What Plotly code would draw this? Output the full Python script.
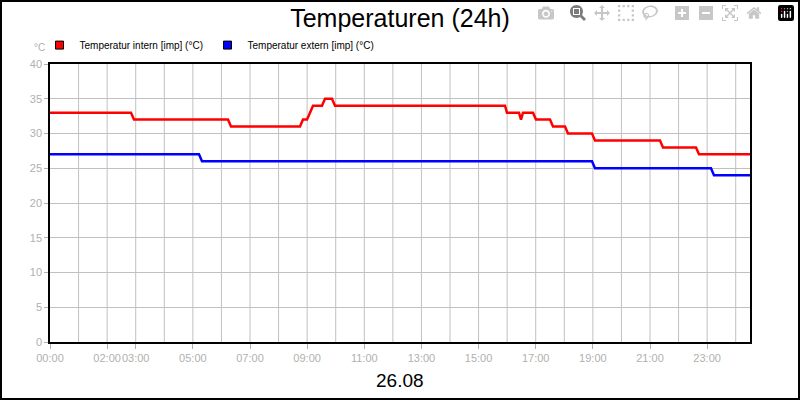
import plotly.graph_objects as go

# hours since 00:00 and temperature values (°C)
intern_t = [0, 2.835, 2.94, 6.23, 6.335, 8.75, 8.855, 8.995, 9.10, 9.205, 9.52, 9.625, 9.87,
            9.975, 15.925, 15.995, 16.415, 16.485, 16.555, 16.905, 17.01, 17.50, 17.605,
            18.025, 18.13, 18.97, 19.075, 21.35, 21.455, 22.61, 22.715, 24.5]
intern_v = [33, 33, 32, 32, 31, 31, 32, 32, 33, 34, 34, 35, 35,
            34, 34, 33, 33, 32, 33, 33, 32, 32, 31,
            31, 30, 30, 29, 29, 28, 28, 27, 27]
extern_t = [0, 5.215, 5.32, 18.97, 19.075, 23.135, 23.24, 24.5]
extern_v = [27, 27, 26, 26, 25, 25, 24, 24]

tick_vals = [0, 2, 3, 5, 7, 9, 11, 13, 15, 17, 19, 21, 23]
tick_text = [f"{h:02d}:00" for h in tick_vals]

fig = go.Figure()
fig.add_trace(go.Scatter(x=intern_t, y=intern_v, mode="lines",
                         line=dict(color="#ff0000", width=2.5), showlegend=False))
fig.add_trace(go.Scatter(x=extern_t, y=extern_v, mode="lines",
                         line=dict(color="#0000ff", width=2.5), showlegend=False))
# legend entries with square symbols, one legend each
for name, col, lg in [("Temperatur intern [imp] (°C)", "#ff0000", "legend"),
                      ("Temperatur extern [imp] (°C)", "#0000ff", "legend2")]:
    fig.add_trace(go.Scatter(x=[None], y=[None], mode="markers", name=name, legend=lg,
                             marker=dict(symbol="square", size=8, color=col,
                                         line=dict(color="black", width=1))))

leg = dict(y=1.068, xanchor="left", yanchor="middle", font=dict(size=10),
           itemwidth=30, bgcolor="rgba(0,0,0,0)")
fig.update_layout(
    width=800, height=400,
    margin=dict(l=50, r=50, t=64, b=58),
    paper_bgcolor="white", plot_bgcolor="white",
    font=dict(family="Liberation Sans, Arial", color="black"),
    title=dict(text="Temperaturen (24h)", x=0.5, y=1 - 18 / 400, xanchor="center",
               yanchor="middle", font=dict(size=25)),
    legend=dict(x=-0.015, **leg),
    legend2=dict(x=0.225, **leg),
    xaxis=dict(range=[0, 24.5], tickvals=tick_vals, ticktext=tick_text, tickangle=0,
               tickfont=dict(size=11, color="#b0b0b0"), ticks="outside",
               ticklen=5, tickcolor="#b0b0b0",
               showgrid=False, showline=True, linecolor="black", linewidth=1.5,
               mirror=True, zeroline=False),
    yaxis=dict(range=[0, 40], dtick=5, tickfont=dict(size=11, color="#b0b0b0"),
               ticks="outside", ticklen=4, tickcolor="#b0b0b0",
               gridcolor="#c0c0c0", showline=True, linecolor="black", linewidth=1.5,
               mirror=True, zeroline=False),
)
# hourly vertical grid lines
for h in range(1, 25):
    fig.add_vline(x=h, line=dict(color="#c0c0c0", width=1), layer="below")
fig.add_annotation(text="°C", xref="paper", yref="paper", x=-0.004, y=1.061,
                   xanchor="right", yanchor="middle", showarrow=False,
                   font=dict(size=10, color="#b0b0b0"))
fig.add_annotation(text="26.08", xref="paper", yref="paper", x=0.5, y=-0.137,
                   yanchor="middle", showarrow=False, font=dict(size=19))
# outer frame
fig.add_shape(type="rect", xref="paper", yref="paper",
              x0=-49 / 700, x1=749 / 700, y0=-57 / 278, y1=(278 + 63) / 278,
              line=dict(color="black", width=2))

fig.write_html("out.html", post_script="document.body.style.margin='0';")
